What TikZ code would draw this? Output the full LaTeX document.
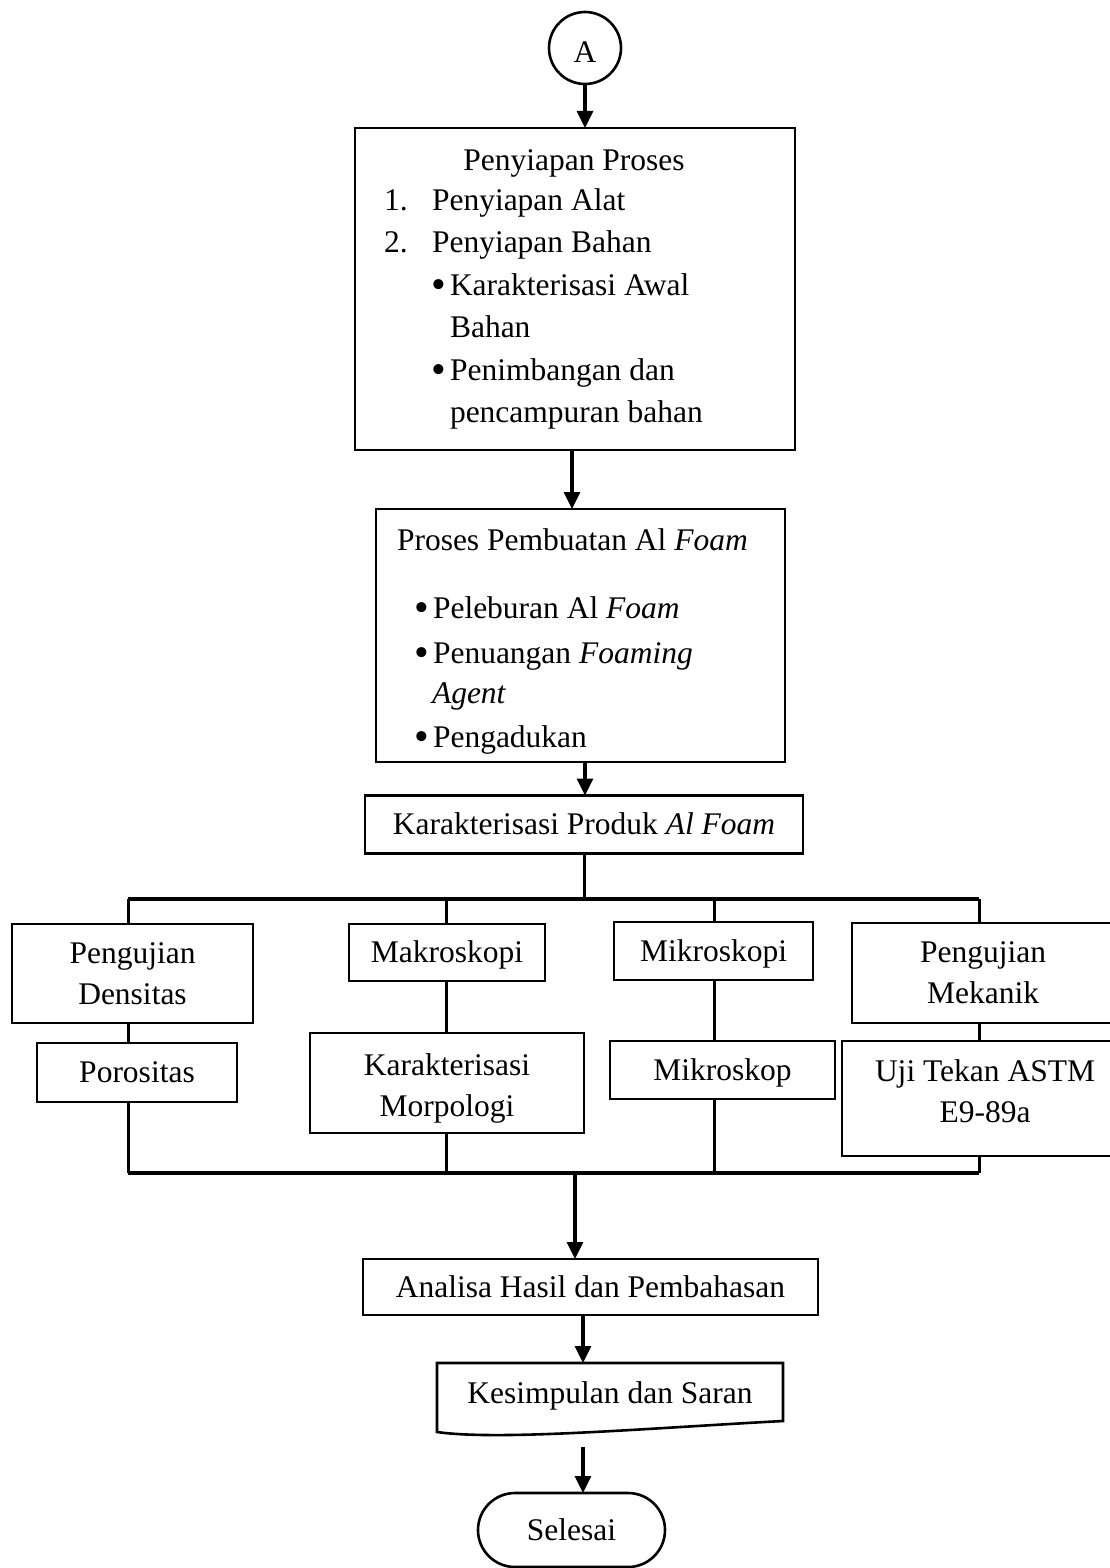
\documentclass[tikz,border=0pt]{standalone}
\usepackage{fontspec}
\setmainfont{Liberation Serif}
\usetikzlibrary{arrows.meta}
\begin{document}
\begin{tikzpicture}[x=1pt,y=-1pt,
  every node/.style={font=\fontsize{31.5}{41}\selectfont, inner sep=0pt, outer sep=0pt},
  box/.style={draw, line width=2.6pt},
  one/.style={text height=25pt, text depth=5pt},
  ln/.style={line width=3pt},
  bus/.style={line width=4pt},
  arr/.style={line width=3.2pt, -{Triangle[length=17pt,width=16pt]}},
  txt/.style={anchor=west, text height=25pt, text depth=5pt},
  bul/.style={anchor=center, text height=25pt, text depth=5pt},
  dot/.style={anchor=center, font=\fontsize{42}{42}\selectfont}
]
\useasboundingbox (0,0) rectangle (1110,1568);
\clip (0,0) rectangle (1110,1568);
\fill[white] (0,0) rectangle (1110,1568);

% start connector
\node[draw, circle, line width=2.6pt, minimum size=72pt, text height=30pt, text depth=0pt] (A) at (585,48) {A};

% box 1
\node[box, minimum width=440pt, minimum height=322pt] (pp) at (575,289) {};
\node[bul] (pp0) at (574,160) {Penyiapan Proses};
\node[txt] (pp1n) at (384,200) {1.};
\node[txt] (pp1) at (432,200) {Penyiapan Alat};
\node[txt] (pp2n) at (384,242) {2.};
\node[txt] (pp2) at (432,242) {Penyiapan Bahan};
\node[dot] (ppb1) at (439,289) {•};
\node[txt] (pp3) at (450,285) {Karakterisasi Awal};
\node[txt] (pp4) at (450,327) {Bahan};
\node[dot] (ppb2) at (439,374) {•};
\node[txt] (pp5) at (450,370) {Penimbangan dan};
\node[txt] (pp6) at (450,412) {pencampuran bahan};

% box 2
\node[box, minimum width=409pt, minimum height=253pt] (pb) at (580.5,635.5) {};
\node[txt] (pb0) at (397,540) {Proses Pembuatan Al \textit{Foam}};
\node[dot] (pbb1) at (422,612) {•};
\node[txt] (pb1) at (433,608) {Peleburan Al \textit{Foam}};
\node[dot] (pbb2) at (422,657) {•};
\node[txt] (pb2) at (433,653) {Penuangan \textit{Foaming}};
\node[txt] (pb3) at (432,693) {\textit{Agent}};
\node[dot] (pbb3) at (422,741) {•};
\node[txt] (pb4) at (433,737) {Pengadukan};

% box 3
\node[box, one, minimum width=438pt, minimum height=58pt] (kp) at (584,824.5) {Karakterisasi Produk \textit{Al Foam}};

% branch boxes
\node[box, align=center, minimum width=241pt, minimum height=99pt] (den) at (132.5,973.5) {Pengujian\\Densitas};
\node[box, one, minimum width=196pt, minimum height=57pt] (mak) at (447,952.5) {Makroskopi};
\node[box, one, minimum width=199pt, minimum height=58pt] (mik) at (713.5,951) {Mikroskopi};
\node[box, align=center, minimum width=262pt, minimum height=100pt] (mek) at (983,973) {Pengujian\\Mekanik};
\node[box, one, minimum width=200pt, minimum height=59pt] (por) at (137,1072.5) {Porositas};
\node[box, minimum width=274pt, minimum height=100pt] (mor) at (447,1083) {};
\node[align=center] (mort) at (447,1088) {Karakterisasi\\Morpologi};
\node[box, one, minimum width=225pt, minimum height=58pt] (mks) at (722.5,1070) {Mikroskop};
\node[box, minimum width=286pt, minimum height=115pt] (uji) at (985,1098.5) {};
\node[align=center] (ujit) at (985,1091) {Uji Tekan ASTM\\E9-89a};

% lower boxes
\node[box, one, minimum width=455pt, minimum height=56pt] (an) at (590.5,1287) {Analisa Hasil dan Pembahasan};
\node[one, minimum width=346pt, minimum height=60pt] (ks) at (610,1393) {Kesimpulan dan Saran};
\draw[box] (437,1432) -- (437,1363) -- (783,1363) -- (783,1421)
  .. controls (650,1428) and (500,1441) .. cycle;
\node[box, one, rounded corners=37pt, minimum width=187pt, minimum height=74pt] (sel) at (571.5,1530) {Selesai};

% connectors
\draw[arr] (A.south) -- (A.south |- pp.north);
\coordinate (c1) at (572,0);
\draw[arr] (pp.south -| c1) -- (pb.north -| c1);
\coordinate (c2) at (585,0);
\draw[arr] (pb.south -| c2) -- (kp.north -| c2);

\coordinate (tl) at (128,899);
\coordinate (t2) at (446,899);
\coordinate (t3) at (714,899);
\coordinate (tr) at (979,899);
\coordinate (bl) at (128,1173);
\coordinate (b2) at (446,1173);
\coordinate (b3) at (714,1173);
\coordinate (br) at (979,1173);
\coordinate (tm) at (584,899);
\coordinate (bm) at (575,1173);

\draw[ln] (kp.south -| tm) -- (tm);
\draw[bus] (tl) -- (tr);
\draw[ln] (tl) -- (tl |- den.north);
\draw[ln] (t2) -- (t2 |- mak.north);
\draw[ln] (t3) -- (t3 |- mik.north);
\draw[ln] (tr) -- (tr |- mek.north);
\draw[ln] (tl |- den.south) -- (tl |- por.north);
\draw[ln] (t2 |- mak.south) -- (t2 |- mor.north);
\draw[ln] (t3 |- mik.south) -- (t3 |- mks.north);
\draw[ln] (tr |- mek.south) -- (tr |- uji.north);
\draw[ln] (bl |- por.south) -- (bl);
\draw[ln] (b2 |- mor.south) -- (b2);
\draw[ln] (b3 |- mks.south) -- (b3);
\draw[ln] (br |- uji.south) -- (br);
\draw[bus] (bl) -- (br);

\draw[arr] (bm) -- (bm |- an.north);
\coordinate (c3) at (583,0);
\draw[arr] (an.south -| c3) -- (ks.north -| c3);
\coordinate (ke) at (583,1447);
\draw[arr] (ke) -- (ke |- sel.north);
\end{tikzpicture}
\end{document}
